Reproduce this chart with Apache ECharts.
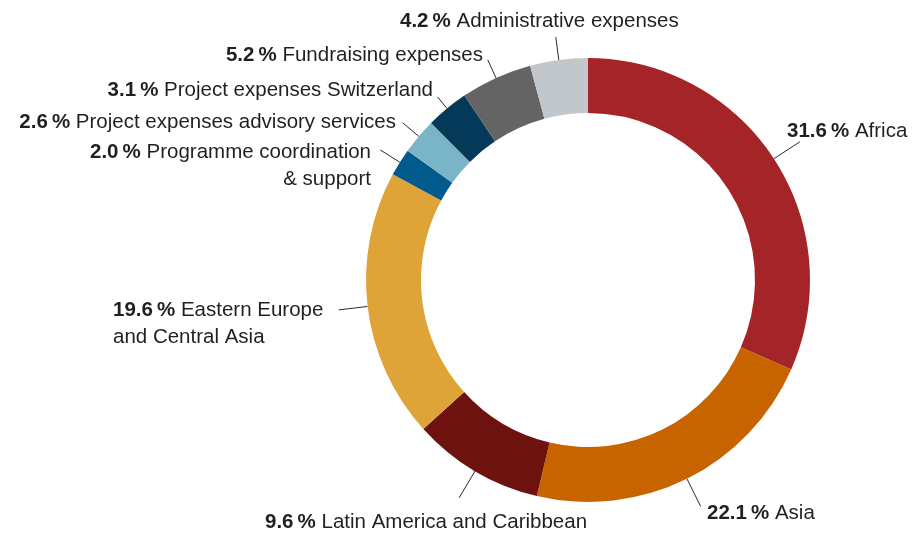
<!DOCTYPE html>
<html><head><meta charset="utf-8">
<script src="https://cdn.jsdelivr.net/npm/echarts@6/dist/echarts.min.js"></script>
<style>html,body{margin:0;padding:0;background:#fff}#c{width:912px;height:536px}</style>
</head><body><div id="c"></div>
<script>
const categories = ['Africa', 'Asia', 'Latin America and Caribbean', 'Eastern Europe\nand Central Asia', 'Programme coordination\n& support', 'Project expenses advisory services', 'Project expenses Switzerland', 'Fundraising expenses', 'Administrative expenses'];
const values = [31.6, 22.1, 9.6, 19.6, 2.0, 2.6, 3.1, 5.2, 4.2];
const percentLabels = ['31.6', '22.1', '9.6', '19.6', '2.0', '2.6', '3.1', '5.2', '4.2'];
const colors = ['#a52428', '#c86400', '#6e1210', '#dea437', '#005b8c', '#7ab4c8', '#05395a', '#646464', '#c2c7cc'];
// label placement: [x, middle y of first line, align]
const labelAnchors = [[787, 131, 'left'], [707, 513, 'left'], [265, 522, 'left'], [113, 310, 'left'], [371, 152, 'right'], [396, 122, 'right'], [433, 90, 'right'], [483, 55, 'right'], [400, 21, 'left']];
const leaderLengths = [31, 31, 31, 29, 23, 21, 15, 20, 23];

const CX = 588, CY = 280, R_IN = 167, R_OUT = 222, FS = 20.5, LH = 27;
const total = values.reduce((a, b) => a + b, 0);
const midAngles = [];
let acc = 0;
values.forEach(v => { midAngles.push(90 - (acc + v / 2) / total * 360); acc += v; });

const FONT = '"Liberation Sans", Arial, sans-serif';
const chart = echarts.init(document.getElementById('c'), null, { renderer: 'canvas' });
chart.setOption({
  animation: false,
  textStyle: { fontFamily: FONT },
  series: [{
    type: 'pie',
    center: [CX, CY],
    radius: [R_IN, R_OUT],
    startAngle: 90,
    clockwise: true,
    avoidLabelOverlap: false,
    silent: true,
    data: categories.map((c, i) => ({ name: c, value: values[i], itemStyle: { color: colors[i] } })),
    itemStyle: { borderWidth: 0 },
    label: {
      show: true,
      position: 'outside',
      fontSize: FS,
      color: '#231f20',
      lineHeight: LH,
      fontFamily: FONT,
      formatter: function (p) {
        const i = p.dataIndex;
        return categories[i].split('\n').map((s, k) => k === 0
          ? '{b|' + percentLabels[i] + '\u2009%} {n|' + s + '}'
          : '{n|' + s + '}').join('\n');
      },
      rich: {
        b: { fontWeight: 'bold', fontSize: FS, color: '#231f20', lineHeight: LH, fontFamily: FONT },
        n: { fontSize: FS, color: '#231f20', lineHeight: LH, fontFamily: FONT }
      }
    },
    labelLine: { show: true, length: 20, length2: 0, lineStyle: { color: '#2a2a2a', width: 1 } },
    labelLayout: function (params) {
      const i = params.dataIndex;
      const a = labelAnchors[i];
      const ang = midAngles[i] * Math.PI / 180;
      const dx = Math.cos(ang), dy = -Math.sin(ang);
      const p0 = [CX + R_OUT * dx, CY + R_OUT * dy];
      const p1 = [CX + (R_OUT + leaderLengths[i]) * dx, CY + (R_OUT + leaderLengths[i]) * dy];
      return { x: a[0], y: a[1] - LH / 2, align: a[2], verticalAlign: 'top', labelLinePoints: [p0, p1] };
    }
  }]
});
</script></body></html>
